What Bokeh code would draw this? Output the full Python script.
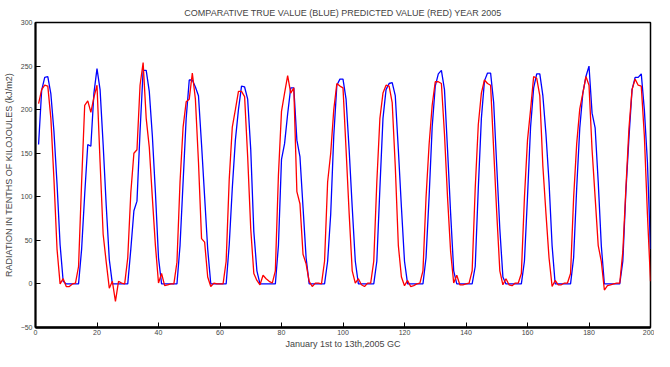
from bokeh.plotting import figure
from bokeh.models import Range1d, FixedTicker
from bokeh.embed import file_html
from bokeh.resources import INLINE

# hourly index, 13 days (16 points per day)
hours = list(range(1, 201))

true_values = [
    160, 222, 237, 238, 218, 175, 115, 45, 3, 0,
    0, 0, 0, 0, 40, 103, 160, 158, 219, 247,
    223, 160, 90, 28, 0, 0, 0, 0, 0, 0,
    40, 84, 95, 175, 245, 245, 221, 170, 105, 30,
    0, 0, 0, 0, 0, 0, 44, 117, 190, 234,
    234, 226, 216, 160, 100, 40, 0, 0, 0, 0,
    0, 0, 45, 110, 165, 200, 227, 226, 212, 154,
    60, 15, 0, 0, 0, 0, 0, 0, 44, 143,
    161, 195, 225, 225, 165, 146, 88, 30, 0, 0,
    0, 0, 0, 0, 26, 80, 170, 228, 235, 235,
    212, 154, 88, 26, 0, 0, 0, 0, 0, 0,
    26, 110, 190, 223, 230, 231, 216, 154, 88, 26,
    0, 0, 0, 0, 0, 0, 30, 100, 180, 227,
    241, 245, 223, 154, 81, 15, 0, 0, 0, 0,
    0, 0, 20, 110, 190, 233, 242, 242, 208, 135,
    63, 8, 0, 0, 0, 0, 0, 0, 26, 100,
    180, 225, 241, 241, 216, 172, 117, 44, 0, 0,
    0, 0, 0, 0, 30, 110, 179, 219, 238, 250,
    196, 179, 117, 44, 0, 0, 0, 0, 0, 0,
    26, 106, 168, 223, 237, 237, 241, 200, 140, 40,
]

predicted_values = [
    207, 223, 228, 227, 190, 120, 40, 0, 6, -3,
    -3, 0, 1, 20, 117, 205, 210, 197, 214, 228,
    140, 57, 25, -5, 3, -20, 3, 1, 0, 30,
    105, 150, 154, 228, 254, 190, 157, 99, 44, 1,
    12, -2, -1, 0, 0, 25, 117, 180, 209, 212,
    242, 212, 140, 52, 48, 8, -3, 1, 0, 0,
    0, 26, 120, 180, 200, 221, 221, 215, 146, 63,
    12, 4, -1, 10, 6, 3, 1, 15, 125, 198,
    219, 239, 219, 225, 106, 92, 34, 23, 3, -3,
    1, 1, 0, 26, 117, 150, 200, 230, 227, 225,
    154, 81, 15, 1, 6, -1, -3, 1, 1, 26,
    117, 190, 219, 228, 227, 208, 135, 44, 8, -2,
    4, -3, -2, 0, 1, 15, 99, 160, 205, 232,
    232, 230, 172, 99, 37, 1, 10, -1, -1, 0,
    1, 15, 110, 183, 219, 234, 230, 228, 154, 81,
    15, -1, 6, -1, -2, 1, 1, 12, 99, 165,
    200, 238, 236, 216, 135, 81, 30, -3, 4, -1,
    -1, 1, 1, 12, 99, 161, 201, 219, 238, 228,
    154, 99, 44, 26, -7, -2, -1, 0, 1, 1,
    37, 110, 179, 223, 235, 228, 227, 170, 80, 3,
]

x_ticks = list(range(0, 201, 20))
y_ticks = list(range(-50, 301, 50))

title_text = "COMPARATIVE TRUE VALUE (BLUE) PREDICTED VALUE (RED) YEAR 2005"
x_label = "January 1st to 13th,2005 GC"
y_label = "RADIATION IN TENTHS OF KILOJOULES (kJ/m2)"

FONT = "Liberation Sans"

p = figure(width=654, height=351,
           x_range=Range1d(0, 200), y_range=Range1d(-50, 300),
           output_backend="svg", toolbar_location=None,
           title=title_text, x_axis_label=x_label, y_axis_label=y_label,
           min_border_left=30, min_border_right=4,
           min_border_top=19, min_border_bottom=12)

p.outline_line_color = "black"
p.outline_line_width = 1.5
p.grid.visible = False

p.title.align = "center"
p.title.text_font = FONT
p.title.text_font_size = "9px"
p.title.text_font_style = "normal"

xa = p.xaxis[0]
ya = p.yaxis[0]
xa.ticker = FixedTicker(ticks=x_ticks)
ya.ticker = FixedTicker(ticks=y_ticks)

for ax in (xa, ya):
    ax.major_tick_in = 5
    ax.major_tick_out = 0
    ax.major_label_text_font = FONT
    ax.major_label_text_font_size = "7px"
    ax.axis_label_text_font = FONT
    ax.axis_label_text_font_size = "9px"
    ax.axis_label_text_font_style = "normal"

xa.axis_line_width = 2.5
xa.axis_line_color = "black"
ya.axis_line_width = 2
ya.axis_line_color = "black"

xa.major_label_standoff = 2
xa.axis_label_standoff = 1
ya.major_label_standoff = 3
ya.axis_label_standoff = 4

p.line(hours, true_values, line_color="#0000ff", line_width=1.3)
p.line(hours, predicted_values, line_color="#ff0000", line_width=1.3)

open("out.html", "w").write(file_html(p, INLINE))
